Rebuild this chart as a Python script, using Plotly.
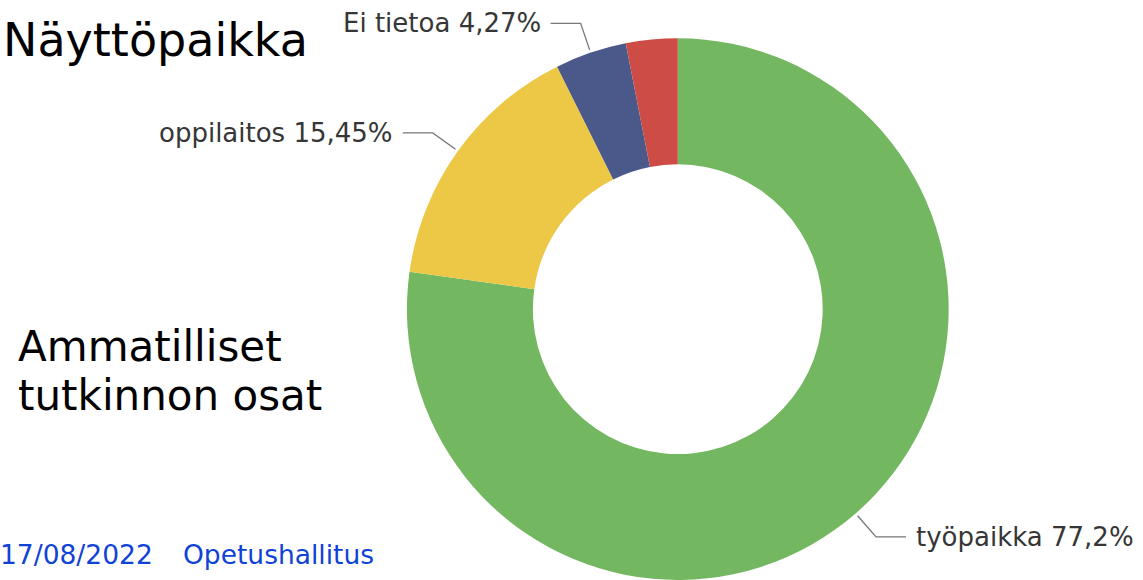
import math
import plotly.graph_objects as go

# ---- data ----
categories = ["työpaikka", "oppilaitos", "Ei tietoa", "muu"]
values = [77.2, 15.45, 4.27, 3.08]
label_texts = ["työpaikka 77,2%", "oppilaitos 15,45%", "Ei tietoa 4,27%", None]
colors = ["#73B761", "#ECC846", "#4A588A", "#CD4C46"]

title_text = "Näyttöpaikka"
subtitle_lines = ["Ammatilliset", "tutkinnon osat"]
footer_date = "17/08/2022"
footer_org = "Opetushallitus"

# ---- layout geometry (pixels) ----
W, H = 1143, 580
dom_y = [0.0, 0.934]
dom_x = [0.343, 0.843]
cx = (dom_x[0] + dom_x[1]) / 2 * W
cy = H - (dom_y[0] + dom_y[1]) / 2 * H
R = (dom_y[1] - dom_y[0]) * H / 2

def px2paper(x, y):
    return x / W, 1 - y / H

fig = go.Figure(go.Pie(
    labels=categories,
    values=values,
    hole=0.535,
    sort=False,
    direction="clockwise",
    rotation=0,
    marker=dict(colors=colors, line=dict(width=0)),
    textinfo="none",
    hoverinfo="label+percent",
    domain=dict(x=dom_x, y=dom_y),
    showlegend=False,
))

shapes = []
annotations = []
total = sum(values)
cum = 0.0
for v, txt in zip(values, label_texts):
    mid = (cum + v / 2) / total * 2 * math.pi
    cum += v
    if not txt:
        continue
    dx, dy = math.sin(mid), -math.cos(mid)
    x0, y0 = cx + (R + 3) * dx, cy + (R + 3) * dy
    x1, y1 = cx + (R + 31) * dx, cy + (R + 31) * dy
    side = 1 if dx > 0 else -1
    x2 = x1 + side * 30
    path = "M {} {} L {} {} L {} {}".format(
        *px2paper(x0, y0), *px2paper(x1, y1), *px2paper(x2, y1))
    shapes.append(dict(type="path", path=path, xref="paper", yref="paper",
                       line=dict(color="#777777", width=1.3)))
    tx, ty = px2paper(x2 + side * 8, y1)
    annotations.append(dict(
        x=tx, y=ty, xref="paper", yref="paper", text=txt, showarrow=False,
        xanchor="left" if side > 0 else "right", yanchor="middle",
        font=dict(family="DejaVu Sans, sans-serif", size=26, color="#363636")))

title_font = dict(family="DejaVu Sans, Verdana, sans-serif", size=46, color="#000000")
sub_font = dict(family="DejaVu Sans, Verdana, sans-serif", size=42, color="#000000")
annotations.append(dict(x=1 / W, y=1 - 40 / H, xref="paper", yref="paper",
                        text=title_text, showarrow=False, xanchor="left",
                        yanchor="middle", font=title_font))
annotations.append(dict(x=16 / W, y=1 - 346 / H, xref="paper", yref="paper",
                        text=subtitle_lines[0], showarrow=False, xanchor="left",
                        yanchor="middle", font=sub_font))
annotations.append(dict(x=16 / W, y=1 - 395 / H, xref="paper", yref="paper",
                        text=subtitle_lines[1], showarrow=False, xanchor="left",
                        yanchor="middle", font=sub_font))
foot_font = dict(family="DejaVu Sans, Verdana, sans-serif", size=26.5, color="#0f43d6")
annotations.append(dict(x=-2 / W, y=1 - 554 / H, xref="paper", yref="paper",
                        text=footer_date, showarrow=False, xanchor="left",
                        yanchor="middle", font=foot_font))
annotations.append(dict(x=181 / W, y=1 - 554 / H, xref="paper", yref="paper",
                        text=footer_org, showarrow=False, xanchor="left",
                        yanchor="middle", font=foot_font))

fig.update_layout(
    width=W, height=H,
    margin=dict(l=0, r=0, t=0, b=0),
    paper_bgcolor="white", plot_bgcolor="white",
    shapes=shapes, annotations=annotations,
)

fig.write_html("out.html", config={"displayModeBar": False},
               post_script="document.body.style.margin='0px';")
